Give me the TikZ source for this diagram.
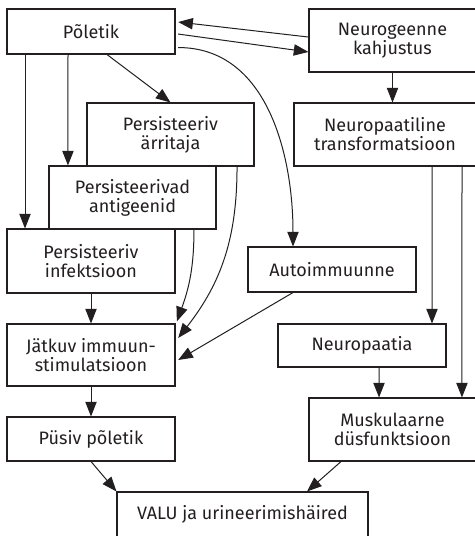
\documentclass[tikz,border=0pt]{standalone}
\usepackage{fontspec}
\setmainfont{Fira Sans}
\usetikzlibrary{arrows.meta}

\definecolor{ink}{HTML}{231F20}

\begin{document}
\begin{tikzpicture}[x=7.5pt,y=7.5pt,
	box/.style={draw=ink, fill=white, line width=0.8pt, align=center, inner sep=0pt,
		minimum width=126pt, minimum height=33.75pt, text=ink,
		font=\fontsize{13.5}{14.3}\selectfont},
	tallbox/.style={box, minimum height=47.25pt},
	every edge/.append style={draw=ink, line width=0.75pt},
	>={Triangle[length=11pt,width=8.5pt]}]
	\clip (0,0) rectangle (47.5,-53.6);
	\node[box] (pol) at (9.1,-3.15) {Põletik};
	\node[tallbox, minimum width=125.25pt] (neu) at (39.25,-4.05) {Neurogeenne\\kahjustus};
	\node[tallbox, minimum width=125.25pt] (arr) at (17.05,-13.45) {Persisteeriv\\ärritaja};
	\node[tallbox, minimum width=125.25pt] (ant) at (13.25,-19.75) {Persisteerivad\\antigeenid};
	\node[tallbox, minimum height=48pt] (inf) at (9.1,-26.1) {Persisteeriv\\infektsioon};
	\node[tallbox, minimum height=46.5pt] (jat) at (9.1,-35.5) {Jätkuv immuun-\\stimulatsioon};
	\node[box, minimum height=33pt] (pus) at (9.1,-43.9) {Püsiv põletik};
	\node[box, minimum width=188.25pt] (valu) at (24.25,-51.45) {VALU ja urineerimishäired};
	\node[box] (aut) at (33.2,-26.95) {Autoimmuunne};
	\node[tallbox, minimum width=136.5pt] (trf) at (38.5,-13.45) {Neuropaatiline\\transformatsioon};
	\node[box, minimum height=32.25pt] (npa) at (36.2,-34.55) {Neuropaatia};
	\node[tallbox, minimum width=125.25pt] (mus) at (39.25,-42.95) {Muskulaarne\\düsfunktsioon};
	\path[->]
	([yshift=2.6pt]neu.west) edge ([xshift=2pt,yshift=7.1pt]pol.east)
	([xshift=2pt,yshift=-1.9pt]pol.east) edge ([yshift=-8.6pt]neu.west)
	([xshift=2pt,yshift=5.25pt]pol.south east) edge[out=0, in=90] ([xshift=-29.25pt]aut.north)
	([xshift=12pt]pol.south) edge (arr.north)
	([xshift=-17.25pt]pol.south) edge ([xshift=-48.4pt]ant.north)
	([xshift=-49.5pt]pol.south) edge ([xshift=-49.5pt]inf.north)
	(neu.south) edge (neu.south |- trf.north)
	([xshift=35.25pt]trf.south) edge ([xshift=52.5pt]npa.north)
	([xshift=57.75pt]trf.south) edge ([xshift=52.1pt]mus.north)
	([xshift=12.75pt]npa.south) edge ([xshift=-10.1pt]mus.north)
	(inf.south) edge (jat.north)
	([xshift=46.1pt]ant.south) edge[out=-90, in=70] ([xshift=1pt,yshift=1.5pt]jat.north east)
	([xshift=49.9pt]arr.south) edge[out=-90, in=52] ([xshift=2pt,yshift=12.75pt]jat.east)
	([xshift=-29.25pt]aut.south) edge ([xshift=2pt,yshift=-3.75pt]jat.east)
	(jat.south) edge (pus.north)
	(pus.south) edge (valu.north west)
	([xshift=-38.6pt]mus.south) edge ([xshift=48.4pt]valu.north);
\end{tikzpicture}
\end{document}
